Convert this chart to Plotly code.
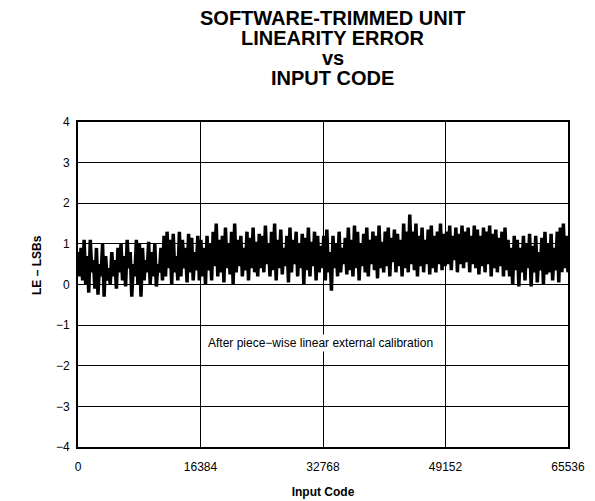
import numpy as np
import plotly.graph_objects as go

# Linearity error (LSBs), in order of input code
le_seg1 = [0.8, 0.2, 0.9, 0.1, 1.1, 0.0, 0.7, -0.2, 1.1, 0.3, 0.6, -0.1, 0.9, -0.25, 0.5, 0.2, 1.0, -0.3, 0.7, 0.1,
           0.4, 0.0, 0.8, 0.2, 0.6, -0.1, 0.9, 0.3, 1.0, 0.1, 0.7, -0.05, 1.1, 0.4, 0.8, -0.3, 0.5, 0.2, 1.1, 0.0]
le_seg2 = [1.0, -0.3, 0.9, 0.1, 0.6, 0.3, 1.05, 0.0, 0.8, 0.2, 1.0, -0.05, 0.5, 0.3, 0.9, 0.1, 1.2, 0.2, 1.3, 0.4,
           1.1, 0.0, 1.25, 0.3, 0.7, 0.1, 1.3, 0.2, 1.1, 0.4, 0.9, 0.05, 1.25, 0.3, 1.15, 0.1, 0.8, 0.35, 1.2, 0.1]
le_seg3 = [1.1, 0.2, 0.9, 0.0, 1.2, 0.35, 1.0, 0.1, 1.3, 0.45, 1.5, 0.2, 1.1, 0.3, 1.2, 0.05, 1.4, 0.4, 1.0, 0.25,
           1.3, 0.0, 1.5, 0.3, 1.1, 0.45, 1.2, 0.2, 0.9, 0.35, 1.3, 0.1, 1.15, 0.4, 1.4, 0.3, 1.05, 0.2, 1.25, 0.4]
le_seg4 = [1.2, 0.3, 1.45, 0.5, 1.0, 0.2, 1.3, 0.35, 1.5, 0.1, 1.1, 0.4, 1.35, 0.25, 0.9, 0.45, 1.2, 0.05, 1.4, 0.3,
           1.1, 0.5, 1.3, 0.2, 1.0, 0.4, 1.25, 0.0, 1.15, 0.35, 1.4, 0.2, 1.05, 0.45, 1.3, 0.1, 1.2, 0.3, 0.95, 0.4]
le_seg5 = [1.2, 0.1, 1.35, 0.3, 0.8, -0.15, 1.2, 0.4, 1.0, 0.2, 1.3, 0.3, 0.9, 0.5, 1.15, 0.25, 1.4, 0.35, 1.1, 0.2,
           1.45, 0.4, 1.3, 0.1, 1.0, 0.45, 1.25, 0.3, 1.4, 0.2, 1.1, 0.5, 1.3, 0.35, 1.2, 0.15, 1.45, 0.4, 1.05, 0.3]
le_seg6 = [1.3, 0.45, 1.4, 0.2, 1.15, 0.55, 1.35, 0.3, 1.25, 0.45, 1.1, 0.2, 1.5, 0.4, 1.3, 0.3, 1.72, 0.5, 1.3, 0.35,
           1.5, 0.2, 1.2, 0.45, 1.4, 0.3, 1.1, 0.5, 1.35, 0.25, 1.45, 0.4, 1.2, 0.3, 1.3, 0.5, 1.5, 0.35, 1.25, 0.45]
le_seg7 = [1.3, 0.5, 1.45, 0.35, 1.2, 0.6, 1.4, 0.3, 1.25, 0.5, 1.45, 0.4, 1.3, 0.55, 1.4, 0.3, 1.2, 0.5, 1.45, 0.4,
           1.35, 0.25, 1.2, 0.45, 1.4, 0.3, 1.3, 0.5, 1.45, 0.2, 1.25, 0.4, 1.35, 0.3, 1.15, 0.45, 1.3, 0.2, 1.4, 0.35]
le_seg8 = [1.1, 0.2, 0.9, 0.0, 1.2, 0.35, 1.1, -0.05, 0.9, 0.3, 1.2, 0.1, 1.0, 0.4, 1.25, -0.05, 0.95, 0.3, 1.2, 0.05,
           0.8, 0.35, 1.15, 0.0, 1.3, 0.25, 1.0, 0.3, 1.25, 0.1, 0.9, 0.35, 1.3, 0.05, 1.4, 0.3, 1.5, 0.4, 1.2, 0.3]

le_lsb = le_seg1 + le_seg2 + le_seg3 + le_seg4 + le_seg5 + le_seg6 + le_seg7 + le_seg8
# samples are evenly spread over the full code range
codes = np.linspace(0, 65535, len(le_lsb))

x_ticks = [0, 16384, 32768, 49152, 65536]
y_ticks = [-4, -3, -2, -1, 0, 1, 2, 3, 4]
title_lines = ["SOFTWARE-TRIMMED UNIT", "LINEARITY ERROR", "vs", "INPUT CODE"]

font = "Liberation Sans, Arial, sans-serif"

fig = go.Figure()

fig.add_trace(go.Scatter(
    x=codes, y=le_lsb,
    mode="lines",
    line=dict(color="black", width=3.5),
    showlegend=False,
))

fig.update_layout(
    width=595, height=501,
    paper_bgcolor="white", plot_bgcolor="white",
    margin=dict(l=70, r=35, t=114, b=58),
    font=dict(family=font, size=12, color="black"),
    xaxis=dict(
        range=[0, 65536],
        tickvals=x_ticks,
        ticktext=[str(v) for v in x_ticks],
        showgrid=True, gridcolor="black", gridwidth=1,
        showline=True, linecolor="black", linewidth=2, mirror=True,
        ticks="outside", ticklen=8, tickcolor="rgba(0,0,0,0)",
        zeroline=False,
        title=dict(text="<b>Input Code</b>", standoff=14, font=dict(size=12)),
    ),
    yaxis=dict(
        range=[-4, 4],
        tickvals=y_ticks,
        showgrid=True, gridcolor="black", gridwidth=1,
        showline=True, linecolor="black", linewidth=2, mirror=True,
        ticks="outside", ticklen=4, tickcolor="rgba(0,0,0,0)",
        zeroline=False,
    ),
)

# title: one annotation per line, tight line spacing like the datasheet
for i, line in enumerate(title_lines):
    fig.add_annotation(
        text="<b>" + line + "</b>",
        xref="paper", yref="paper",
        x=0.52, y=1.0 + (105 - 20.3 * i) / 329,
        xanchor="center", yanchor="middle",
        showarrow=False,
        font=dict(size=20),
    )

fig.add_annotation(
    text="<b>LE – LSBs</b>",
    xref="paper", yref="paper", x=-0.102, y=0.56,
    textangle=-90, showarrow=False,
    font=dict(size=12),
)

fig.add_annotation(
    text="After piece−wise linear external calibration",
    x=32400, y=-1.43,
    showarrow=False,
    bgcolor="white",
    font=dict(size=12),
)

fig.write_html("out.html")
